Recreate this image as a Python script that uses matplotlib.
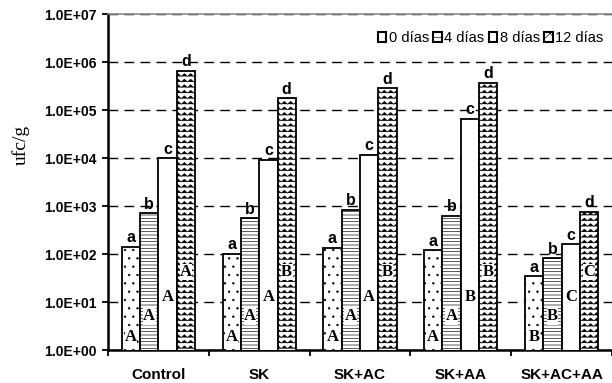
import warnings
import numpy as np
import matplotlib
matplotlib.use("Agg")
import matplotlib.pyplot as plt
import matplotlib.hatch as mhatch
from matplotlib.path import Path
from matplotlib.patches import Patch

warnings.filterwarnings("ignore")

# datos (ufc/g)
grupos = ["Control", "SK", "SK+AC", "SK+AA", "SK+AC+AA"]
series = ["0 días", "4 días", "8 días", "12 días"]
dia0 = [142, 100, 135, 120, 34]
dia4 = [700, 550, 830, 630, 81]
dia8 = [9800, 9200, 11500, 65000, 160]
dia12 = [650000, 175000, 283000, 370000, 760]
letras_min = ["a", "b", "c", "d"]
letras0 = ["A", "A", "A", "A", "B"]
letras4 = ["A", "A", "A", "A", "B"]
letras8 = ["A", "A", "A", "B", "C"]
letras12 = ["A", "B", "B", "B", "C"]
ytick_labels = ["1.0E+00", "1.0E+01", "1.0E+02", "1.0E+03",
                "1.0E+04", "1.0E+05", "1.0E+06", "1.0E+07"]


# trama ondulada para la serie de 12 dias
class ZigzagHatch(mhatch.HatchPatternBase):
    def __init__(self, hatch, density):
        self.num_rows = int(hatch.count('z') * density * 3)
        self.num_teeth = 16
        self.num_vertices = self.num_rows * (2 * self.num_teeth + 1)

    def set_vertices_and_codes(self, vertices, codes):
        if self.num_rows == 0:
            return
        n = 2 * self.num_teeth + 1
        xs = np.linspace(0, 1, n)
        amp = 0.25 / self.num_rows
        zig = np.where(np.arange(n) % 2 == 0, -amp, amp)
        for i in range(self.num_rows):
            y = (i + 0.5) / self.num_rows
            s = slice(i * n, (i + 1) * n)
            vertices[s, 0] = xs
            vertices[s, 1] = y + zig
            codes[s] = Path.LINETO
            codes[i * n] = Path.MOVETO


mhatch._hatch_types.append(ZigzagHatch)

plt.rcParams['font.family'] = ['Liberation Sans', 'DejaVu Sans']
plt.rcParams['hatch.linewidth'] = 0.45

fig = plt.figure(figsize=(6.12, 3.83), dpi=100)
ax = fig.add_axes([108 / 612, 1 - 350 / 383, 504 / 612, 336 / 383])

valores = [dia0, dia4, dia8, dia12]
letras_may = [letras0, letras4, letras8, letras12]
tramas = ["..", "-----", "", "z"]
y_letra = [1.9, 5.0, 13, 42]
w = 0.182
x = np.arange(len(grupos))

for i, (vals, trama) in enumerate(zip(valores, tramas)):
    xs = x + (i - 1.5) * w
    ax.bar(xs, vals, width=w, color="white", edgecolor="black",
           linewidth=1.3, hatch=trama, zorder=3)
    for xi, v, L in zip(xs, vals, letras_may[i]):
        ax.text(xi, v * 1.08, letras_min[i], ha="center", va="bottom",
                fontsize=11.5, fontweight="bold", zorder=5)
        ax.text(xi, y_letra[i], L, ha="center", va="center",
                fontsize=12, fontweight="bold",
                family=["Liberation Serif", "DejaVu Serif"], zorder=5,
                bbox=dict(facecolor="white", edgecolor="none", pad=0.3))

ax.set_yscale("log")
ax.set_ylim(1, 1e7)
ax.set_xlim(-0.5, -0.5 + 504 / 101.5)
ax.set_yticks([10 ** k for k in range(8)])
ax.set_yticklabels(ytick_labels, fontsize=10, fontweight="bold")
ax.yaxis.set_minor_locator(matplotlib.ticker.NullLocator())
ax.set_xticks(x)
ax.set_xticklabels(grupos, fontsize=11, fontweight="bold")
ax.set_xticks(np.arange(len(grupos) + 1) - 0.5, minor=True)
ax.tick_params(axis="x", which="major", length=0, pad=13)
ax.tick_params(axis="x", which="minor", length=4, width=1.3, direction="out")
ax.tick_params(axis="y", which="major", length=4, width=1.3, direction="out", pad=4)

ax.grid(True, axis="y", which="major", color="black", linewidth=1.0,
        linestyle=(0, (7, 4.5)), zorder=1)
ax.set_axisbelow(True)

for s in ["left", "bottom"]:
    ax.spines[s].set_linewidth(1.8)
ax.spines["right"].set_visible(False)
ax.spines["top"].set_color("#8a8a8a")
ax.spines["top"].set_linewidth(1.2)
ax.spines["top"].set_zorder(4)

ax.set_ylabel("ufc/g", fontsize=14, family=["Liberation Serif", "DejaVu Serif"])
ax.yaxis.set_label_coords(-0.155, 0.61)

handles = [Patch(facecolor="white", edgecolor="black", linewidth=1.5, hatch=h)
           for h in ["", "--", "", "xx"]]
ax.legend(handles, series, loc="upper right", bbox_to_anchor=(1.0, 0.975),
          ncol=4, frameon=False, fontsize=10.5, handlelength=0.6,
          handleheight=0.6, handletextpad=0.15, columnspacing=0.3,
          borderaxespad=0.2)

fig.savefig("out.png", dpi=100)
